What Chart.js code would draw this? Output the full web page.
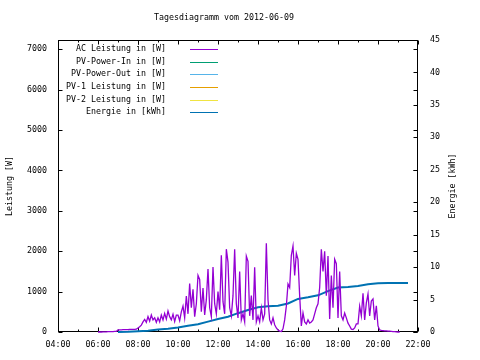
<!DOCTYPE html>
<html>
<head>
<meta charset="utf-8">
<script src="https://cdn.jsdelivr.net/npm/chart.js@4/dist/chart.umd.min.js"></script>
<style>
html,body{margin:0;padding:0;background:#fff;}
canvas{display:block;}
</style>
</head>
<body>
<canvas id="c" width="480" height="360"></canvas>
<script>
// ---- data ----
const chartTitle = 'Tagesdiagramm vom 2012-06-09';
const leftAxisTitle = 'Leistung [W]';
const rightAxisTitle = 'Energie [kWh]';
const seriesNames = ['AC Leistung in [W]', 'PV-Power-In in [W]', 'PV-Power-Out in [W]', 'PV-1 Leistung in [W]', 'PV-2 Leistung in [W]', 'Energie in [kWh]'];
const seriesColors = ['#9400D3', '#009E73', '#56B4E9', '#E69F00', '#F0E442', '#0072B2'];

// AC power samples, one every 5 minutes starting 06:00
const acStartHour = 6;
const acStepMinutes = 5;
const acPower = [
  0,0,0,5,5,5,10,10,10,10,15,15,                          // 06
  50,55,55,60,60,60,60,65,65,65,65,70,                    // 07
  100,130,170,250,310,240,380,270,420,300,350,240,        // 08
  350,250,420,300,460,320,520,380,300,440,260,420,        // 09
  420,280,500,640,350,890,450,1200,600,1060,380,700,      // 10
  1400,1300,500,1090,420,800,1560,600,380,1610,700,450,   // 11
  1000,550,1900,750,450,2050,1730,600,400,900,2050,700,   // 12
  350,1500,300,450,250,1880,1750,400,900,300,1600,250,    // 13
  400,250,600,300,450,2200,800,300,200,350,180,100,       // 14
  50,20,10,80,300,640,1190,1100,1900,2130,1400,1950,      // 15
  1800,900,150,470,250,200,300,220,250,300,450,600,       // 16
  700,1100,2050,1500,2000,900,1880,320,1400,600,1800,1690,// 17
  350,1500,400,300,470,350,220,150,70,60,100,200,         // 18
  200,640,400,960,300,720,940,400,770,820,300,650,        // 19
  150,50,40,35,30,30,20,20,15,10,10,5,                    // 20
  0,0                                                      // 21
];

// Energy (kWh) read at these hours
const energyHours = [7, 7.5, 8, 8.5, 9, 9.5, 10, 10.5, 11, 11.5, 12, 12.5, 13, 13.5, 14, 14.5, 15, 15.5, 16, 16.5, 17, 17.5, 18, 18.5, 19, 19.5, 20, 20.5, 21, 21.5];
const energyKWh = [0, 0.03, 0.1, 0.2, 0.4, 0.5, 0.7, 0.95, 1.2, 1.6, 2.0, 2.35, 2.9, 3.4, 3.8, 3.95, 4.05, 4.4, 5.1, 5.35, 5.65, 6.3, 6.85, 6.95, 7.1, 7.35, 7.5, 7.55, 7.55, 7.55];

const xTickHours = [4, 6, 8, 10, 12, 14, 16, 18, 20, 22];
const yTickValues = [0, 1000, 2000, 3000, 4000, 5000, 6000, 7000];
const y2TickValues = [0, 5, 10, 15, 20, 25, 30, 35, 40, 45];
const xMin = 4, xMax = 22;
const yMax = 7230;
const y2Max = 45;

// ---- build ----
const FONT = '"DejaVu Sans Mono", monospace';
const FS = 8.3;
const acPoints = acPower.map((v, i) => ({x: acStartHour + i * acStepMinutes / 60, y: v}));
const energyPoints = energyHours.map((h, i) => ({x: h, y: energyKWh[i]}));

const datasets = seriesNames.map((name, i) => ({
  label: name,
  data: i === 0 ? acPoints : (i === 5 ? energyPoints : []),
  borderColor: seriesColors[i],
  backgroundColor: seriesColors[i],
  borderWidth: i === 5 ? 2 : 1.3,
  pointRadius: 0,
  tension: 0,
  fill: false,
  clip: 3,
  yAxisID: i === 5 ? 'y2' : 'y'
}));

function pad2(n){ return (n < 10 ? '0' : '') + n; }

const decor = {
  id: 'decor',
  beforeDatasetsDraw(chart) {
    const ctx = chart.ctx;
    const {left, right, top, bottom} = chart.chartArea;
    const xs = chart.scales.x, ys = chart.scales.y, ys2 = chart.scales.y2;
    ctx.save();
    ctx.strokeStyle = '#000';
    ctx.lineWidth = 1;
    const L = Math.round(left) + 0.5, R = Math.round(right) - 0.5, T = Math.round(top) + 0.5, B = Math.round(bottom) - 0.5;
    ctx.strokeRect(L, T, R - L, B - T);
    ctx.beginPath();
    for (let h = xMin; h <= xMax; h++) {
      const px = Math.round(xs.getPixelForValue(h)) + 0.5;
      const len = (h % 2 === 0) ? 4 : 2;
      ctx.moveTo(px, B); ctx.lineTo(px, B - len);
      ctx.moveTo(px, T); ctx.lineTo(px, T + len);
    }
    ys.ticks.forEach(t => {
      const py = Math.round(ys.getPixelForValue(t.value)) + 0.5;
      ctx.moveTo(L, py); ctx.lineTo(L + 4, py);
      ctx.moveTo(R, py); ctx.lineTo(R - 4, py);
    });
    ys2.ticks.forEach(t => {
      const py = Math.round(ys2.getPixelForValue(t.value)) + 0.5;
      ctx.moveTo(R, py); ctx.lineTo(R - 4, py);
    });
    ctx.stroke();
    ctx.restore();
  },
  afterDraw(chart) {
    const ctx = chart.ctx;
    const {top, bottom} = chart.chartArea;
    ctx.save();
    ctx.fillStyle = '#000';
    ctx.font = FS + 'px ' + FONT;
    ctx.textBaseline = 'middle';
    ctx.textAlign = 'center';
    ctx.fillText(chartTitle, 224, 18);
    const midY = (top + bottom) / 2;
    ctx.save(); ctx.translate(10, midY); ctx.rotate(-Math.PI / 2); ctx.fillText(leftAxisTitle, 0, 0); ctx.restore();
    ctx.save(); ctx.translate(453, midY); ctx.rotate(-Math.PI / 2); ctx.fillText(rightAxisTitle, 0, 0); ctx.restore();
    ctx.textAlign = 'right';
    chart.data.datasets.forEach((ds, i) => {
      const yy = 49 + i * 12.65;
      ctx.fillStyle = '#000';
      ctx.fillText(ds.label, 166, yy);
      ctx.strokeStyle = ds.borderColor;
      ctx.lineWidth = 1;
      ctx.beginPath();
      ctx.moveTo(190, Math.round(yy) + 0.5);
      ctx.lineTo(218, Math.round(yy) + 0.5);
      ctx.stroke();
    });
    ctx.restore();
  }
};

new Chart(document.getElementById('c'), {
  type: 'line',
  data: {datasets},
  options: {
    responsive: false,
    animation: false,
    devicePixelRatio: 1,
    layout: {padding: {top: 40, left: 0, right: 0, bottom: 0}},
    plugins: {legend: {display: false}, title: {display: false}, tooltip: {enabled: false}},
    scales: {
      x: {
        type: 'linear', position: 'bottom', min: xMin, max: xMax,
        grid: {display: false, drawTicks: false},
        border: {display: false},
        afterBuildTicks(s) { s.ticks = xTickHours.map(v => ({value: v})); },
        ticks: {padding: 8, maxRotation: 0, autoSkip: false, color: '#000',
          font: {family: FONT, size: FS}, callback: v => pad2(v) + ':00'},
        afterFit(s) { s.height = 28; }
      },
      y: {
        type: 'linear', position: 'left', min: 0, max: yMax,
        grid: {display: false, drawTicks: false},
        border: {display: false},
        afterBuildTicks(s) { s.ticks = yTickValues.map(v => ({value: v})); },
        ticks: {padding: 11, color: '#000', font: {family: FONT, size: FS}, callback: v => String(v)},
        afterFit(s) { s.width = 58; }
      },
      y2: {
        type: 'linear', position: 'right', min: 0, max: y2Max,
        grid: {display: false, drawTicks: false},
        border: {display: false},
        afterBuildTicks(s) { s.ticks = y2TickValues.map(v => ({value: v})); },
        ticks: {padding: 12, color: '#000', font: {family: FONT, size: FS}, callback: v => String(v)},
        afterFit(s) { s.width = 62; }
      }
    }
  },
  plugins: [decor]
});
</script>
</body>
</html>
